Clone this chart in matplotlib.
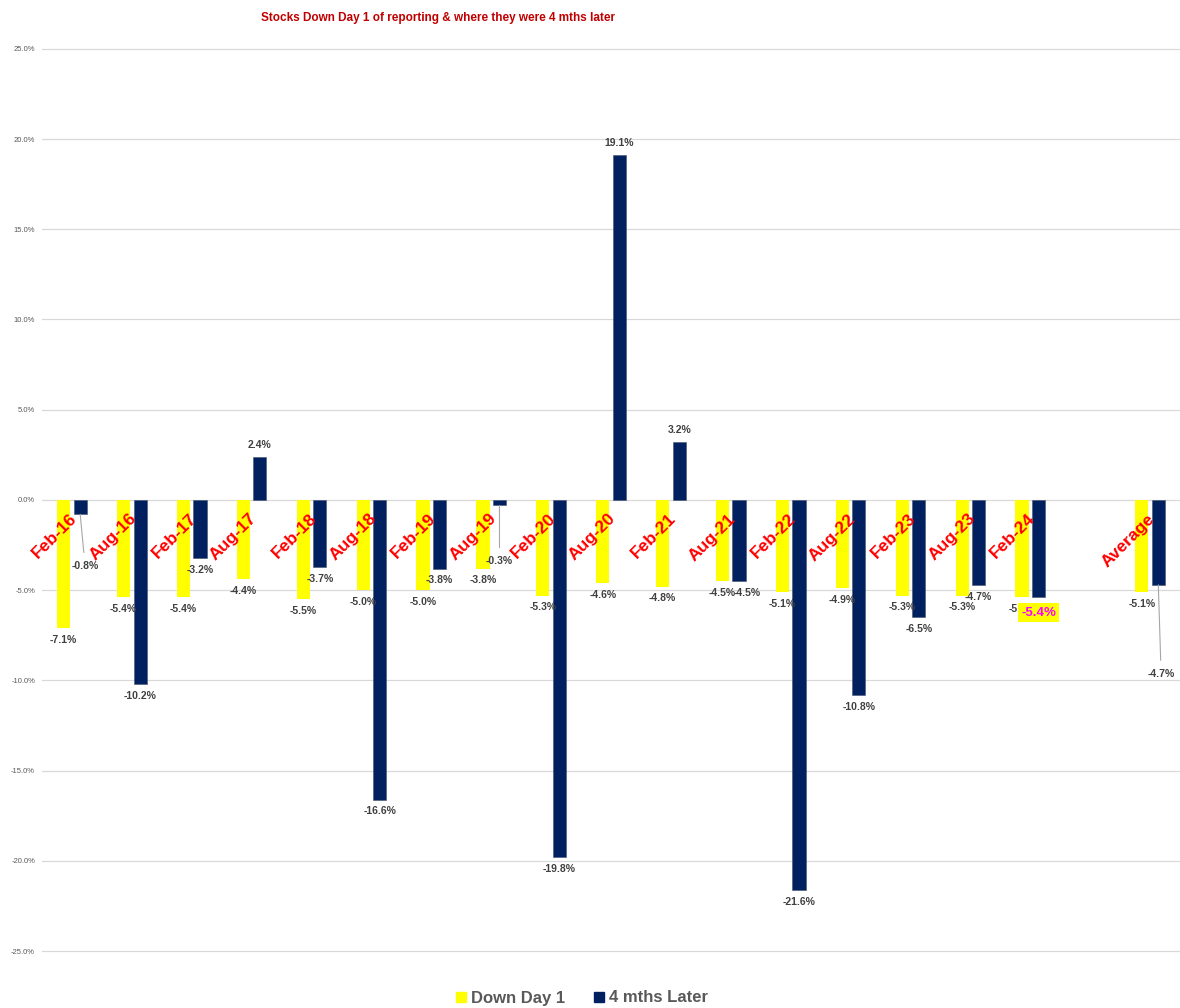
import numpy as np
import matplotlib
matplotlib.use("Agg")
import matplotlib.pyplot as plt
from matplotlib.lines import Line2D

plt.rcParams['font.family'] = ['Liberation Sans', 'DejaVu Sans']

# reporting periods (blank slot before the average)
periods = ["Feb-16", "Aug-16", "Feb-17", "Aug-17", "Feb-18", "Aug-18", "Feb-19",
           "Aug-19", "Feb-20", "Aug-20", "Feb-21", "Aug-21", "Feb-22", "Aug-22",
           "Feb-23", "Aug-23", "Feb-24", "", "Average"]
down_day1 = [-7.1, -5.4, -5.4, -4.4, -5.5, -5.0, -5.0, -3.8, -5.3, -4.6, -4.8,
             -4.5, -5.1, -4.9, -5.3, -5.3, -5.4, np.nan, -5.1]
later_4m = [-0.8, -10.2, -3.2, 2.4, -3.7, -16.6, -3.8, -0.3, -19.8, 19.1, 3.2,
            -4.5, -21.6, -10.8, -6.5, -4.7, -5.4, np.nan, -4.7]

YELLOW = "#FFFF00"
NAVY = "#002060"
GREY = "#595959"
LABEL_GREY = "#404040"

fig = plt.figure(figsize=(11.8, 10.08), dpi=100)
ax = fig.add_axes([42 / 1180, 0.0546, 1 - 42 / 1180, 0.9534 - 0.0546])

x = np.arange(len(periods))
w = 0.22
off = 0.138
ax.bar(x - off, down_day1, w, color=YELLOW, zorder=2)
ax.bar(x + off, later_4m, w, color=NAVY, edgecolor="#44546A", linewidth=0.4, zorder=2)

ax.set_xlim(-0.5, len(periods) - 0.5)
ax.set_ylim(-25.1, 25.1)
ax.set_yticks(np.arange(-25, 26, 5))
ax.set_yticklabels([f"{v:.1f}%" for v in np.arange(-25, 26, 5)])
ax.tick_params(axis="y", length=0, pad=5, labelsize=5.5, labelcolor=GREY)
ax.set_xticks([])
ax.grid(axis="y", color="#D9D9D9", linewidth=0.9, zorder=0)
for s in ax.spines.values():
    s.set_visible(False)

# category names sit just below the zero line, tilted
for i, name in enumerate(periods):
    if not name:
        continue
    ax.annotate(name, (i, 0), xytext=(-2, -8), textcoords="offset points",
                rotation=45, rotation_mode="anchor", ha="right", va="top",
                color="red", fontsize=12.5, fontweight="bold", zorder=4)


def value_label(xpos, val, dx=0, dy=None, leader=False, **kw):
    if np.isnan(val):
        return
    if dy is None:
        dy = 8.5 if val >= 0 else -8.5
    props = dict(arrowstyle="-", color="#A6A6A6", lw=0.8,
                 shrinkA=4, shrinkB=0) if leader else None
    ax.annotate(f"{val:.1f}%", (xpos, val), xytext=(dx, dy),
                textcoords="offset points", ha="center", va="center",
                fontsize=kw.pop("fontsize", 7.5), fontweight="bold",
                color=kw.pop("color", LABEL_GREY), arrowprops=props,
                zorder=5, **kw)


for i, v in enumerate(down_day1):
    value_label(i - off, v)

# some navy labels are pulled away from their bars
moved = {"Feb-16": (3.5, -37), "Aug-19": (0, -40), "Average": (2, -64)}
for i, v in enumerate(later_4m):
    name = periods[i]
    if name in moved:
        dx, dy = moved[name]
        value_label(i + off, v, dx, dy, leader=True)
    elif name == "Feb-24":
        value_label(i + off, v, 0, -11, fontsize=9.5, color="#FF00FF",
                    bbox=dict(boxstyle="square,pad=0.25", fc=YELLOW, ec="none"))
    elif name == "Aug-21":
        value_label(i + off, v, 6, -8.5)
    else:
        value_label(i + off, v)

fig.text(438 / 1180, 1 - 18 / 1008,
         "Stocks Down Day 1 of reporting & where they were 4 mths later",
         ha="center", va="center", color="#C00000", fontsize=8.5, fontweight="bold")

handles = [Line2D([], [], marker="s", linestyle="none", markersize=7.5,
                  markerfacecolor=YELLOW, markeredgecolor=YELLOW),
           Line2D([], [], marker="s", linestyle="none", markersize=7.5,
                  markerfacecolor=NAVY, markeredgecolor=NAVY)]
leg = fig.legend(handles, ["Down Day 1", "4 mths Later"], loc="center",
                 bbox_to_anchor=(0.492, 1 - 998 / 1008), ncol=2, frameon=False,
                 handletextpad=0.1, columnspacing=1.5, handlelength=1.0,
                 prop=dict(size=12, weight="bold"))
for t in leg.get_texts():
    t.set_color(GREY)

fig.savefig("out.png", dpi=100, facecolor="white")
